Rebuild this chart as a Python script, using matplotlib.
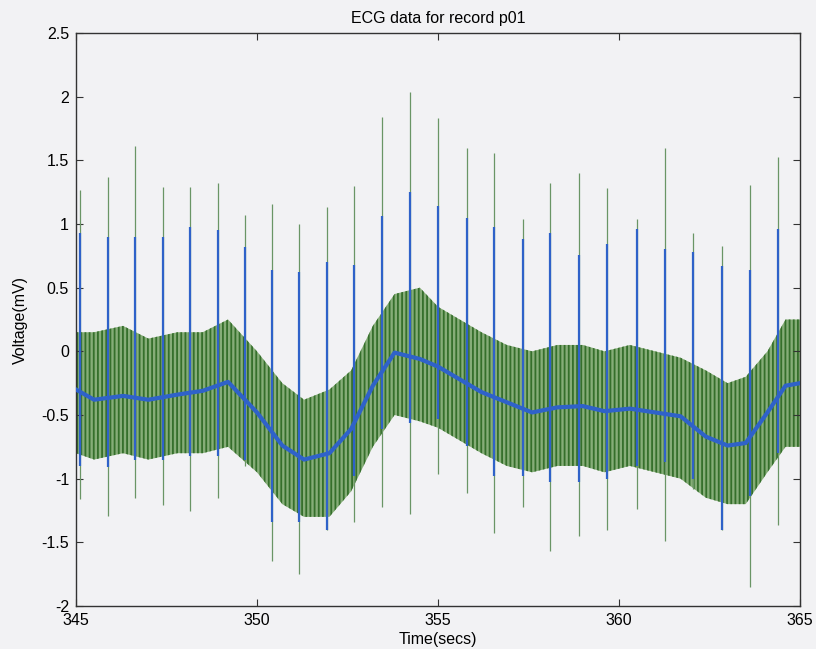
#!/usr/bin/env python3

import matplotlib
matplotlib.use("Agg")
import matplotlib.pyplot as plt

# beat times (secs)
beat_t = [345.11, 345.88, 346.63, 347.40, 348.15, 348.91, 349.67, 350.42,
          351.17, 351.93, 352.69, 353.46, 354.22, 355.01, 355.79, 356.56,
          357.35, 358.10, 358.90, 359.68, 360.49, 361.27, 362.05, 362.85,
          363.62, 364.39]
# raw (green) R-peak tops and S-trough bottoms (mV)
raw_peak = [1.27, 1.37, 1.61, 1.29, 1.29, 1.32, 1.07, 1.16, 1.00, 1.13,
            1.30, 1.84, 2.04, 1.83, 1.60, 1.56, 1.04, 1.32, 1.40, 1.28,
            1.04, 1.60, 0.93, 0.83, 1.31, 1.53]
raw_trough = [-1.16, -1.29, -1.15, -1.21, -1.25, -1.15, -0.90, -1.65,
              -1.75, -1.40, -1.34, -1.22, -1.28, -0.96, -1.11, -1.43,
              -1.22, -1.57, -1.45, -1.40, -1.24, -1.49, -1.08, -1.40,
              -1.85, -1.36]
# filtered (blue) spike tops and bottoms (mV)
filt_peak = [0.93, 0.90, 0.90, 0.90, 0.98, 0.95, 0.82, 0.64, 0.62, 0.70,
             0.68, 1.06, 1.25, 1.14, 1.05, 0.98, 0.88, 0.93, 0.76, 0.84,
             0.96, 0.80, 0.78, 0.67, 0.64, 0.96]
filt_trough = [-0.90, -0.91, -0.85, -0.85, -0.82, -0.82, -0.85, -1.34,
               -1.34, -1.40, -0.98, -0.61, -0.56, -0.53, -0.74, -0.98,
               -0.98, -1.03, -1.03, -1.00, -0.90, -0.87, -1.00, -1.40,
               -1.14, -0.80]

# baseline wander and noise envelope of the raw trace
drift_t = [345.0, 345.5, 346.3, 347.0, 347.8, 348.5, 349.2, 350.0, 350.7,
           351.3, 352.0, 352.6, 353.2, 353.8, 354.5, 355.0, 355.6, 356.2,
           356.9, 357.6, 358.3, 359.0, 359.6, 360.3, 361.0, 361.7, 362.4,
           363.0, 363.5, 364.1, 364.6, 365.0]
drift_mid = [-0.30, -0.38, -0.35, -0.38, -0.34, -0.31, -0.24, -0.48, -0.74,
             -0.85, -0.80, -0.61, -0.27, -0.01, -0.06, -0.12, -0.22, -0.32,
             -0.40, -0.48, -0.44, -0.43, -0.47, -0.45, -0.48, -0.51, -0.67,
             -0.74, -0.72, -0.48, -0.27, -0.25]
band_top = [0.15, 0.15, 0.20, 0.10, 0.15, 0.15, 0.25, 0.00, -0.25, -0.38,
            -0.30, -0.15, 0.20, 0.45, 0.50, 0.35, 0.25, 0.15, 0.05, 0.00,
            0.05, 0.05, 0.00, 0.05, 0.00, -0.05, -0.15, -0.25, -0.20, 0.00,
            0.25, 0.25]
band_bot = [-0.80, -0.85, -0.80, -0.85, -0.80, -0.80, -0.75, -0.95, -1.20,
            -1.30, -1.30, -1.10, -0.75, -0.50, -0.55, -0.60, -0.70, -0.80,
            -0.90, -0.95, -0.90, -0.90, -0.95, -0.90, -0.95, -1.00, -1.15,
            -1.20, -1.20, -0.95, -0.75, -0.75]

xticks = [345, 350, 355, 360, 365]
yticks = [-2, -1.5, -1, -0.5, 0, 0.5, 1, 1.5, 2, 2.5]

PAPER = "#f2f2f4"
GREEN = "#356f2b"
BLUE = "#2f62c9"


def set_plt_settings():
    plt.rcParams["font.family"] = ["Liberation Sans", "DejaVu Sans"]
    plt.rc("font", size=11.5)
    plt.rc("axes", titlesize=11.5, labelsize=11.5, linewidth=1.0)
    plt.rc("xtick", labelsize=11.5, direction="in")
    plt.rc("ytick", labelsize=11.5, direction="in")
    plt.rcParams["axes.unicode_minus"] = False
    plt.rcParams["hatch.linewidth"] = 1.3


def main():
    set_plt_settings()

    fig = plt.figure(figsize=(8.16, 6.49), dpi=100, facecolor=PAPER)
    ax = fig.add_axes([76 / 816, 1 - 606 / 649, 724 / 816, 573 / 649])
    ax.set_facecolor(PAPER)

    # noisy raw trace as a striped band
    ax.fill_between(drift_t, band_bot, band_top, facecolor="#86ad78",
                    edgecolor=GREEN, hatch="||||", linewidth=0, zorder=1)
    ax.vlines(beat_t, raw_trough, raw_peak, color="#6a9565",
              linewidth=0.9, zorder=2)

    # filtered trace on top
    ax.plot(drift_t, drift_mid, color=BLUE, linewidth=3.0, zorder=3)
    ax.vlines(beat_t, filt_trough, filt_peak, color=BLUE,
              linewidth=1.6, zorder=4)

    ax.set_xlim(345, 365)
    ax.set_ylim(-2, 2.5)
    ax.set_xticks(xticks)
    ax.set_xticklabels([str(t) for t in xticks])
    ax.set_yticks(yticks)
    ax.set_yticklabels(["%g" % v for v in yticks])
    ax.tick_params(top=True, right=True, length=5, width=0.8,
                   color="#333333", pad=5)
    for s in ax.spines.values():
        s.set_color("#333333")

    ax.set_xlabel("Time(secs)", labelpad=3)
    ax.set_ylabel("Voltage(mV)", labelpad=10)
    ax.set_title("ECG data for record p01", pad=7)

    fig.savefig("out.png", dpi=100, facecolor=PAPER)
    plt.close(fig)


if __name__ == "__main__":
    main()
